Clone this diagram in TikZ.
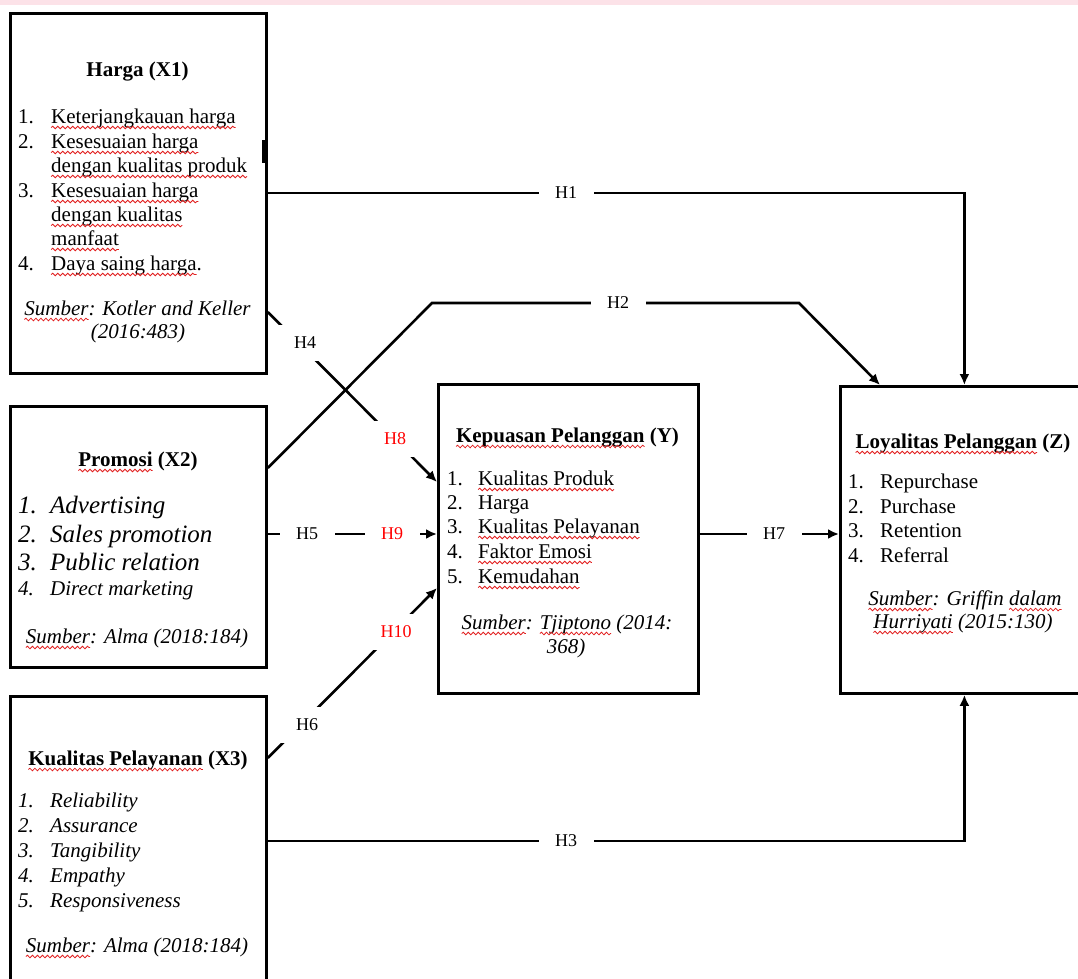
\documentclass[tikz,border=0pt]{standalone}
\usepackage{fontspec}
\setmainfont{Liberation Serif}
\usetikzlibrary{arrows.meta,decorations.pathmorphing,calc}
\definecolor{pinkband}{RGB}{252,226,232}
\definecolor{wavered}{RGB}{225,30,30}
\newcommand\sq[1]{\tikz[baseline=(sqw.base)]{\node[inner sep=0pt,outer sep=0pt,anchor=base](sqw){#1};\draw[overlay,wavered,line width=0.8pt,decorate,decoration={snake,amplitude=1.3pt,segment length=5pt}]([yshift=-4.5pt]sqw.base west)--([yshift=-4.5pt]sqw.base east);}}
\newcommand\li[3]{\makebox[#1][l]{#2}#3}
\tikzset{
  box/.style={draw, line width=2.8pt, inner sep=0pt, anchor=north west},
  conn/.style={line width=2.6pt, -{Latex[length=11pt,width=10pt]}},
  itm/.style={inner sep=0pt, anchor=base west, font=\fontsize{21}{25}\selectfont},
  iti/.style={inner sep=0pt, anchor=base west, font=\fontsize{21}{25}\selectfont\itshape},
  itb/.style={inner sep=0pt, anchor=base west, font=\fontsize{25}{28}\selectfont\itshape},
  ttl/.style={inner sep=0pt, anchor=base, font=\fontsize{21}{25}\selectfont\bfseries},
  src/.style={inner sep=0pt, anchor=base, font=\fontsize{21}{25}\selectfont\itshape},
  hl/.style={fill=white, inner sep=0pt, minimum width=55pt, minimum height=36pt, font=\fontsize{18}{20}\selectfont},
  hr/.style={hl, text=red}
}
\begin{document}
\begin{tikzpicture}[x=1pt,y=-1pt]
\useasboundingbox (0,0) rectangle (1078,978);
\clip (0,0) rectangle (1078,978);
\fill[pinkband] (0,0) rectangle (1078,5);

% boxes
\node[box, minimum width=256pt, minimum height=360pt] (x1) at (9,12) {};
\node[box, minimum width=256pt, minimum height=261pt] (x2) at (9,405) {};
\node[box, minimum width=256pt, minimum height=300pt] (x3) at (9,695) {};
\node[box, minimum width=260pt, minimum height=309pt] (y) at (437,383) {};
\node[box, minimum width=248pt, minimum height=307pt] (z) at (839,385) {};
\draw[line width=4pt] (263.5,140) -- (263.5,163);

% X1 text
\node[ttl] (x1t) at (137.5,76) {Harga (X1)};
\node[itm] (x1a) at (18,123) {\li{33pt}{1.}{\sq{Keterjangkauan harga}}};
\node[itm] (x1b) at (18,148) {\li{33pt}{2.}{\sq{Kesesuaian harga}}};
\node[itm] (x1c) at (51,172) {\sq{dengan kualitas produk}};
\node[itm] (x1d) at (18,197) {\li{33pt}{3.}{\sq{Kesesuaian harga}}};
\node[itm] (x1e) at (51,221) {\sq{dengan kualitas}};
\node[itm] (x1f) at (51,245) {\sq{manfaat}};
\node[itm] (x1g) at (18,270) {\li{33pt}{4.}{\sq{Daya saing harga}.}};
\node[src] (x1s) at (137.5,315) {\sq{Sumber}: Kotler and Keller};
\node[src] (x1s2) at (138,338) {(2016:483)};

% X2 text
\node[ttl] (x2t) at (138,466) {\sq{Promosi} (X2)};
\node[itb] (x2a) at (18,513) {\li{32pt}{1.}{Advertising}};
\node[itb] (x2b) at (18,542) {\li{32pt}{2.}{Sales promotion}};
\node[itb] (x2c) at (18,570) {\li{32pt}{3.}{Public relation}};
\node[iti] (x2d) at (18,595) {\li{32pt}{4.}{Direct marketing}};
\node[src] (x2s) at (137,643) {\sq{Sumber}: Alma (2018:184)};

% X3 text
\node[ttl] (x3t) at (138,765) {\sq{Kualitas Pelayanan} (X3)};
\node[iti] (x3a) at (18,807) {\li{32pt}{1.}{Reliability}};
\node[iti] (x3b) at (18,832) {\li{32pt}{2.}{Assurance}};
\node[iti] (x3c) at (18,857) {\li{32pt}{3.}{Tangibility}};
\node[iti] (x3d) at (18,882) {\li{32pt}{4.}{Empathy}};
\node[iti] (x3e) at (18,907) {\li{32pt}{5.}{Responsiveness}};
\node[src] (x3s) at (137,952) {\sq{Sumber}: Alma (2018:184)};

% Y text
\node[ttl] (yt) at (567.5,442) {\sq{Kepuasan Pelanggan} (Y)};
\node[itm] (ya) at (447,485) {\li{31pt}{1.}{\sq{Kualitas Produk}}};
\node[itm] (yb) at (447,509) {\li{31pt}{2.}{Harga}};
\node[itm] (yc) at (447,533) {\li{31pt}{3.}{\sq{Kualitas Pelayanan}}};
\node[itm] (yd) at (447,558) {\li{31pt}{4.}{\sq{Faktor Emosi}}};
\node[itm] (ye) at (447,583) {\li{31pt}{5.}{\sq{Kemudahan}}};
\node[src] (ys) at (567,629) {\sq{Sumber}: \sq{Tjiptono} (2014:};
\node[src] (ys2) at (566,653) {368)};

% Z text
\node[ttl] (zt) at (963,448) {\sq{Loyalitas Pelanggan} (Z)};
\node[itm] (za) at (848,488) {\li{32pt}{1.}{Repurchase}};
\node[itm] (zb) at (848,513) {\li{32pt}{2.}{Purchase}};
\node[itm] (zc) at (848,537) {\li{32pt}{3.}{Retention}};
\node[itm] (zd) at (848,562) {\li{32pt}{4.}{Referral}};
\node[src] (zs) at (965,605) {\sq{Sumber}: Griffin \sq{dalam}};
\node[src] (zs2) at (963,628) {\sq{Hurriyati} (2015:130)};

% connectors
\coordinate (b2a) at (432,303);
\coordinate (b2b) at (799,303);
\draw[conn] (x1.east |- 0,193) -| (z.north);
\draw[conn] (x2.east |- 0,468) -- (b2a) -- (b2b) -- (z.north -| 880,0);
\draw[conn] (x3.east |- 0,841) -| (z.south);
\draw[conn] (x1.east |- 0,312) -- (y.west |- 0,482);
\draw[conn] (x2.east |- 0,534) -- (y.west |- 0,534);
\draw[conn] (x3.east |- 0,758) -- (y.west |- 0,588);
\draw[conn] (y.east |- 0,534) -- (z.west |- 0,534);

% labels
\node[hl] (lh1) at (566,193) {H1};
\node[hl] (lh2) at (618,303) {H2};
\node[hl] (lh3) at (566,841) {H3};
\node[hl] (lh4) at (305,343) {H4};
\node[hl] (lh5) at (307,534) {H5};
\node[hl] (lh6) at (307,725) {H6};
\node[hl] (lh7) at (774,534) {H7};
\node[hr] (lh8) at (395,439) {H8};
\node[hr] (lh9) at (392,534) {H9};
\node[hr] (lh10) at (396,632) {H10};
\end{tikzpicture}
\end{document}
